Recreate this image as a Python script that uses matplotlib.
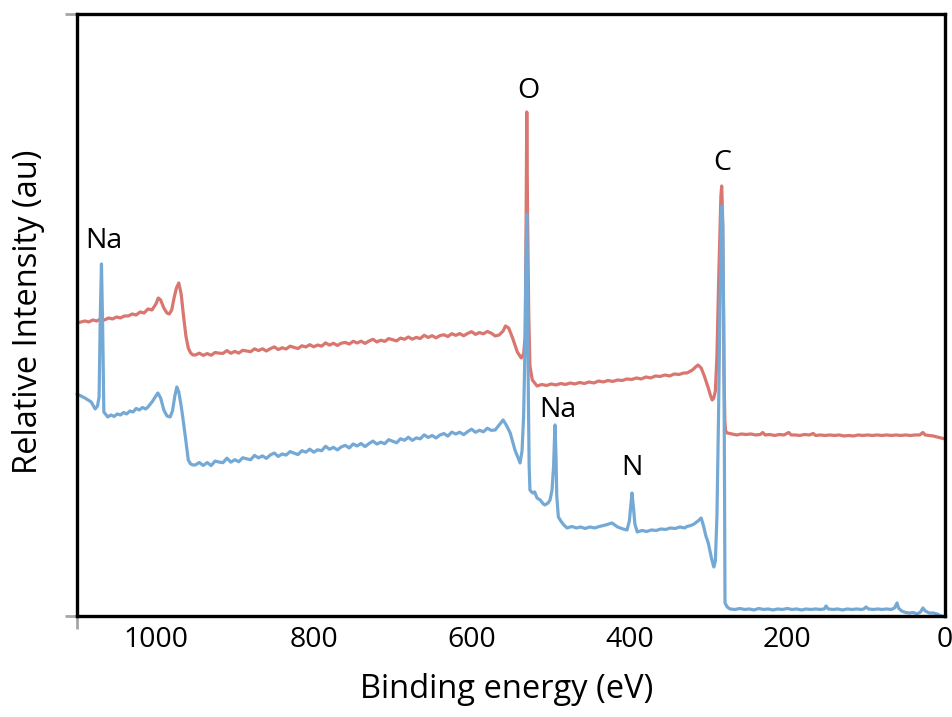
import matplotlib
matplotlib.use("Agg")
import matplotlib.pyplot as plt

plt.rcParams['font.family'] = ['Open Sans', 'DejaVu Sans']

# espectro superior (vermelho): energia de ligação (eV) e intensidade (u.a.)
energia_a = [1100, 1095, 1090, 1085, 1080, 1075, 1070, 1065, 1060, 1055, 1050, 1045, 1040, 1035,
             1030, 1025, 1020, 1015, 1010, 1005, 1000, 997, 994, 990, 986, 983, 980, 977, 974, 971,
             968, 965, 962, 959, 956, 953,
             950, 945, 940, 935, 930, 925, 920, 915, 910, 905, 900, 895, 890, 885, 880, 875, 870,
             865, 860, 855, 850, 845, 840, 835, 830, 825, 820, 815, 810, 805, 800, 795, 790, 785,
             780, 775, 770, 765, 760, 755, 750, 745, 740, 735, 730, 725, 720, 715, 710, 705, 700,
             695, 690, 685, 680, 675, 670, 665, 660, 655, 650, 645, 640, 635, 630, 625, 620, 615,
             610, 605, 600, 595, 590, 585, 580, 575,
             570, 565, 560, 557, 553, 548, 542, 537, 534, 532, 531, 530, 529, 527.5, 526,
             523, 517, 511, 505, 499, 493, 487, 481, 475, 469, 463, 457, 451, 445, 439, 433, 427,
             421, 415, 409, 403, 397, 391, 385, 379, 373, 367, 361, 355, 349, 343, 337, 331, 327,
             320, 316, 313, 309, 305, 300, 297, 295, 293, 291, 289, 287, 285, 284, 283, 282, 281,
             280, 279, 278,
             276, 270, 264, 258, 252, 246, 240, 234, 231, 228, 222, 216, 210, 204, 198, 195, 190,
             184, 178, 172, 167, 164, 158, 152, 146, 140, 134, 128, 122, 116, 110, 104, 98, 92,
             86, 80, 74, 68, 62, 56, 50, 44, 38, 32, 28, 25, 20, 15, 10, 5, 0]
intens_a = [293, 294, 295, 294, 296, 295, 297, 296, 298, 297, 299, 298, 300, 300,
            302, 301, 304, 303, 307, 306, 312, 318, 316, 308, 303, 302, 306, 318, 328, 333,
            322, 300, 280, 268, 263, 261,
            261, 262.8, 260.6, 262.4, 260.7, 263.5, 262.8, 262.6, 265.4, 262.7, 264.6, 262.9, 265.7,
            265, 264.3, 267.1, 265.4, 267.2, 265, 267.3, 269.1, 266.4, 268.2, 267, 269.8, 268.6,
            267.4, 270.2, 269, 271.3, 269.2, 271, 269.8, 273.1, 270.9, 272.7, 270.5, 272.8, 273.6,
            271.9, 274.7, 273, 274.8, 272.6, 274.9, 276.7, 274, 275.8, 274.6, 277.4, 276.2, 275.1,
            277.9, 276.7, 279, 276.8, 278.6, 277.4, 280.7, 278.5, 280.3, 278.1, 280.4, 281.2, 279.5,
            282.3, 280.6, 282.4, 280.2, 282.5, 284.3, 281.6, 283.4, 282.2, 284.5, 282.8,
            280, 281, 285, 290, 288, 278, 264, 258, 262, 280, 380, 504, 400, 300, 250,
            236, 230, 231.5, 230.5, 232, 231, 232.5, 231.5, 233, 232, 233.5, 232.5, 234, 233, 235,
            234, 235.5, 234.5, 236, 235.5, 237, 236.5, 238, 237, 239, 238, 240, 239.5, 241, 240,
            242, 241.5, 243, 243,
            246, 249, 251, 248, 240, 228, 220, 216, 218, 225, 260, 330, 390, 420, 430, 405, 330,
            240, 195, 185,
            183, 182, 181, 182, 181.5, 182, 181, 181.5, 183.5, 181, 181.5, 180.5, 181.5, 181,
            183.5, 181, 181, 180.5, 181.5, 181, 182.5, 180.5, 181, 180.5, 181, 180.5, 181, 180,
            180.5, 180, 181, 180.5, 181, 180.5, 181, 180.5, 181, 180.5, 181, 180.5, 181, 180.5,
            181, 181, 183.5, 181, 180.5, 180, 179, 178, 177]

# espectro inferior (azul)
energia_b = [1100, 1095, 1090, 1086, 1082, 1077, 1074, 1072, 1070.5, 1069, 1067.5, 1066,
             1061, 1057, 1053, 1049, 1045, 1041, 1037, 1033, 1029, 1025, 1021, 1017, 1013, 1010,
             1005, 1000, 997.5, 994, 990, 986, 982, 979, 976, 973.5, 971, 968, 966, 962, 959,
             956, 953,
             950, 945, 940, 935, 930, 925, 920, 915, 910, 905, 900, 895, 890, 885, 880, 875, 870,
             865, 860, 855, 850, 845, 840, 835, 830, 825, 820, 815, 810, 805, 800, 795, 790, 785,
             780, 775, 770, 765, 760, 755, 750, 745, 740, 735, 730, 725, 720, 715, 710, 705, 700,
             695, 690, 685, 680, 675, 670, 665, 660, 655, 650, 645, 640, 635, 630, 625, 620, 615,
             610, 605, 600, 595, 590, 585, 580, 575,
             570, 567, 563, 560, 556, 551, 545, 541, 538.5, 536, 534, 532, 531, 530, 529, 528,
             527, 526, 524, 522, 520, 517, 513, 509, 507, 503, 500.5, 498, 496, 495, 494.2, 493,
             492, 490, 486, 483,
             479, 473, 467, 462, 456, 450, 444, 438, 430, 422, 415, 408, 403, 400, 398, 396.7, 395,
             393, 390, 384, 378, 372, 366, 360, 354, 348, 342, 336, 330, 327, 322,
             318, 313, 309, 306, 303, 300, 296, 293, 291, 289, 287, 285, 283.5, 282.5, 281.5,
             280.5, 279.5, 278.8,
             276, 272.5, 266, 260, 254, 248, 242, 236, 230, 224, 218, 212, 206, 200, 194, 188,
             182, 176, 170, 164, 158, 153, 150.8, 148, 142, 136, 130, 124, 118, 112, 106, 103,
             100, 97, 91, 85, 80, 74, 68, 64, 62, 60.8, 59, 55, 50, 45, 40, 35.5, 31, 28, 25, 20,
             15, 10, 5, 0]
intens_b = [222, 220, 218, 216, 214, 207, 210, 219, 300, 352, 290, 204,
            199, 201, 199.5, 202, 201, 203.5, 202, 205, 204, 207.5, 206, 208.5, 207, 209,
            214, 220, 223, 218, 206, 200, 199, 205, 220, 229, 224, 210, 199, 175, 156,
            152, 151,
            151, 153.5, 150.5, 153.4, 150.4, 154.9, 153.9, 153.3, 157.8, 153.8, 156.3, 154.2,
            158.2, 157.2, 156.2, 160.6, 158.1, 160.1, 157.6, 161, 163, 159.5, 162, 160.9, 164.4,
            162.9, 161.4, 165.3, 163.8, 166.8, 163.8, 166.2, 165.2, 169.7, 166.7, 168.6, 166.1,
            169.1, 170.6, 168, 172, 170, 172.5, 169.4, 172.4, 174.9, 171.9, 173.8, 172.3, 176.3,
            174.8, 173.2, 177.2, 175.7, 178.7, 175.6, 178.1, 177.1, 181.1, 178.5, 180.5, 178,
            181, 182.4, 179.9, 183.9, 181.9, 183.8, 181.3, 184.3, 186.8, 183.7, 185.7, 184.2,
            187.7, 185.6,
            186, 189, 193, 196, 191, 183, 166, 158, 153, 165, 200, 280, 360, 402, 330, 220,
            150, 126, 124, 123, 124, 118, 116, 112, 111, 113, 116, 126, 150, 175, 191, 160,
            120, 99, 94, 91,
            88, 89.5, 88, 89, 87.5, 89, 88, 89.5, 91, 93, 89, 87, 86, 95, 112, 123, 110,
            92, 84, 85.5, 84.5, 86, 85.5, 87, 86.5, 88, 87.5, 89, 88, 89.5, 90.5,
            92, 95, 98, 90, 80, 73, 58, 49, 55, 100, 200, 320, 400, 410, 390,
            300, 150, 13,
            9, 7, 6.5, 7.5, 6.5, 7, 6, 7.5, 6.5, 7, 6, 7, 6.5, 7.5, 6.5, 7,
            6, 7, 6.5, 7, 6.5, 7, 10, 7, 6.5, 7, 6, 7, 6.5, 7, 6.5, 7,
            9, 7, 6.5, 7, 6.5, 7, 6.5, 8, 11, 13, 8, 5, 3.5, 3, 3.5, 2, 4, 8, 5, 3,
            3, 2, 0, -1]

# rótulos dos picos: texto, energia, intensidade
picos_txt = ['O', 'C', 'Na', 'Na', 'N']
picos_x = [528.5, 282.6, 1066, 490, 396.7]
picos_y = [525, 453, 375, 206, 148]

cor_a = '#d9766f'
cor_b = '#75a9d5'

fig = plt.figure(figsize=(9.53, 7.17), dpi=100)
ax = fig.add_axes([0.0808, 0.1409, 0.9108, 0.8396])

ax.plot(energia_a, intens_a, color=cor_a, lw=2.3, solid_capstyle='round', solid_joinstyle='round')
ax.plot(energia_b, intens_b, color=cor_b, lw=2.3, solid_capstyle='round', solid_joinstyle='round',
        clip_on=False)

for t, x, y in zip(picos_txt, picos_x, picos_y):
    ax.text(x, y, t, ha='center', va='center', fontsize=20.5)

ax.set_xlim(1100, 0)
ax.set_ylim(0, 602)

ax.set_xticks([1000, 800, 600, 400, 200, 0])
ax.set_xticks([1100], minor=True)
ax.set_yticks([0, 602])
ax.set_yticklabels(['', ''])
ax.tick_params(axis='x', which='major', length=0, pad=7, labelsize=20.5)
ax.tick_params(axis='x', which='minor', length=9, width=2, color='#a6a6a6')
ax.tick_params(axis='y', length=9, width=2, color='#a6a6a6')

for lado in ['left', 'right', 'top', 'bottom']:
    ax.spines[lado].set_linewidth(2.4)
    ax.spines[lado].set_color('black')

ax.set_xlabel('Binding energy (eV)', fontsize=23.5)
ax.set_ylabel('Relative Intensity (au)', fontsize=23.5)
ax.xaxis.set_label_coords(0.495, -0.094)
ax.yaxis.set_label_coords(-0.037, 0.505)

fig.savefig('out.png', dpi=100)
